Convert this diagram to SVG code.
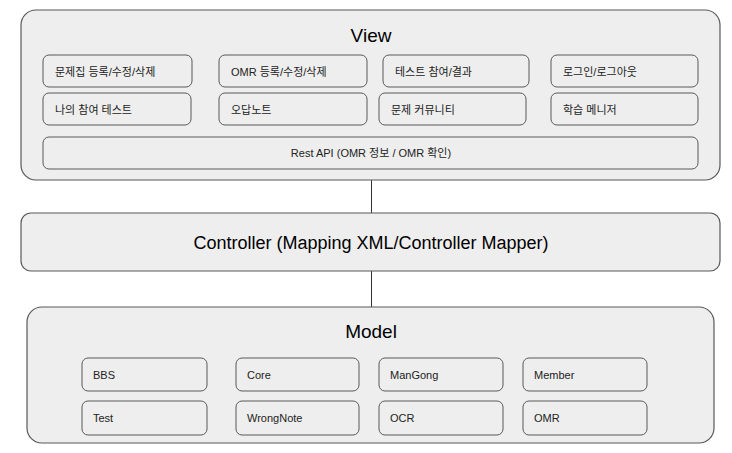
<svg xmlns="http://www.w3.org/2000/svg" width="732" height="453" viewBox="0 0 732 453">
<style>
.big{fill:#eeeeee;stroke:#595959;stroke-width:1.2}
.box{fill:#eeeeee;stroke:#595959;stroke-width:1}
.t{font-family:"Liberation Sans","Noto Sans CJK KR",sans-serif;font-size:11px;fill:#222}
.h{font-family:"Liberation Sans","Noto Sans CJK KR",sans-serif;font-size:19px;fill:#000;text-anchor:middle}
.c{stroke:#333;stroke-width:1;fill:none}
</style>
<rect width="732" height="453" fill="#ffffff"/>
<g id="connectors">
<line class="c" x1="371.5" y1="180" x2="371.5" y2="213"/>
<line class="c" x1="371.5" y1="271" x2="371.5" y2="307"/>
</g>
<g id="view">
<rect class="big" x="21" y="10" width="699" height="170" rx="15"/>
<text class="h" x="371" y="42">View</text>
</g>
<g id="v1"><rect class="box" x="43" y="55" width="149" height="32" rx="6"/><text class="t" x="55" y="76">문제집 등록/수정/삭제</text></g>
<g id="v2"><rect class="box" x="219" y="55" width="148" height="32" rx="6"/><text class="t" x="231" y="76">OMR 등록/수정/삭제</text></g>
<g id="v3"><rect class="box" x="383" y="55" width="146" height="32" rx="6"/><text class="t" x="395" y="76">테스트 참여/결과</text></g>
<g id="v4"><rect class="box" x="551" y="55" width="147" height="32" rx="6"/><text class="t" x="563" y="76">로그인/로그아웃</text></g>
<g id="v5"><rect class="box" x="43" y="93" width="148" height="32" rx="6"/><text class="t" x="55" y="114">나의 참여 테스트</text></g>
<g id="v6"><rect class="box" x="219" y="93" width="148" height="32" rx="6"/><text class="t" x="231" y="114">오답노트</text></g>
<g id="v7"><rect class="box" x="379" y="93" width="147" height="32" rx="6"/><text class="t" x="391" y="114">문제 커뮤니티</text></g>
<g id="v8"><rect class="box" x="551" y="93" width="147" height="32" rx="6"/><text class="t" x="563" y="114">학습 메니저</text></g>
<g id="v9"><rect class="box" x="43" y="137" width="655" height="32" rx="6"/><text class="t" x="371" y="157" text-anchor="middle">Rest API (OMR 정보 / OMR 확인)</text></g>
<g id="controller">
<rect class="big" x="21" y="213" width="699" height="58" rx="10"/>
<text class="h" x="371" y="249" style="font-size:18px">Controller (Mapping XML/Controller Mapper)</text>
</g>
<g id="model">
<rect class="big" x="27" y="307" width="687" height="136" rx="15"/>
<text class="h" x="371" y="338">Model</text>
</g>
<g id="m1"><rect class="box" x="82" y="358" width="125" height="33" rx="6"/><text class="t" x="93" y="379">BBS</text></g>
<g id="m2"><rect class="box" x="236" y="358" width="123" height="33" rx="6"/><text class="t" x="247" y="379">Core</text></g>
<g id="m3"><rect class="box" x="379" y="358" width="124" height="33" rx="6"/><text class="t" x="390" y="379">ManGong</text></g>
<g id="m4"><rect class="box" x="523" y="358" width="124" height="33" rx="6"/><text class="t" x="534" y="379">Member</text></g>
<g id="m5"><rect class="box" x="82" y="401" width="125" height="34" rx="6"/><text class="t" x="93" y="422">Test</text></g>
<g id="m6"><rect class="box" x="236" y="401" width="123" height="34" rx="6"/><text class="t" x="247" y="422">WrongNote</text></g>
<g id="m7"><rect class="box" x="379" y="401" width="124" height="34" rx="6"/><text class="t" x="390" y="422">OCR</text></g>
<g id="m8"><rect class="box" x="523" y="401" width="124" height="34" rx="6"/><text class="t" x="534" y="422">OMR</text></g>
</svg>
